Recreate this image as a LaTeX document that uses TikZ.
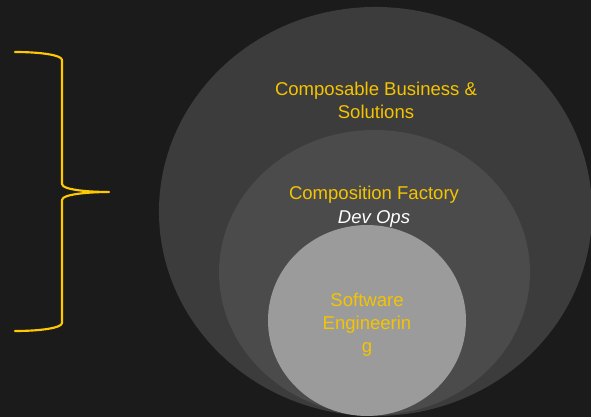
\documentclass[tikz,border=0pt]{standalone}
\usepackage{fontspec}
\setmainfont{Liberation Sans}
\definecolor{bg}{HTML}{1B1B1B}
\definecolor{ringA}{HTML}{3C3C3C}
\definecolor{ringB}{HTML}{4B4B4B}
\definecolor{ringC}{HTML}{9B9B9B}
\definecolor{gold}{HTML}{F5C400}
\definecolor{bracegold}{HTML}{FFC800}
\begin{document}
\begin{tikzpicture}[x=0.75pt,y=-0.75pt,
  lbl/.style={text=gold,align=center,inner sep=0pt,anchor=base,
    font=\fontsize{13.9}{16.9}\selectfont},
  sub/.style={text=white,inner sep=0pt,anchor=base,
    font=\fontsize{13.9}{16.9}\selectfont\itshape},
  bracestyle/.style={draw=bracegold,line width=1.6pt,line cap=round,line join=round}]
\fill[bg] (0,0) rectangle (591,417);
\useasboundingbox (0,0) rectangle (591,417);
% rings
\fill[ringA] (375.5,211.5) ellipse [x radius=162.4pt, y radius=153.4pt];
\fill[ringB] (374.5,272.5) ellipse [x radius=116.6pt, y radius=106.9pt];
\fill[ringC] (367,320.5) ellipse [x radius=74.25pt, y radius=71.6pt];
% brace
\coordinate (btop) at (15,52);
\coordinate (btip) at (109,192);
\coordinate (bbot) at (15,331);
\draw[bracestyle] (btop) .. controls (40,52) and (62,55) .. (62,60)
  -- (62,184) .. controls (62,190) and (90,192) .. (btip)
  .. controls (90,192) and (62,194) .. (62,200)
  -- (62,323) .. controls (62,328) and (40,331) .. (bbot);
% labels (base = baseline of last line)
\node[lbl] (outer) at (376,118) {Composable Business \&\\Solutions};
\node[lbl] (middle) at (374,199) {Composition Factory};
\node[sub] (devops) at (374,223) {Dev Ops};
\node[lbl] (inner) at (367,352) {Software\\Engineerin\\g};
\end{tikzpicture}
\end{document}
